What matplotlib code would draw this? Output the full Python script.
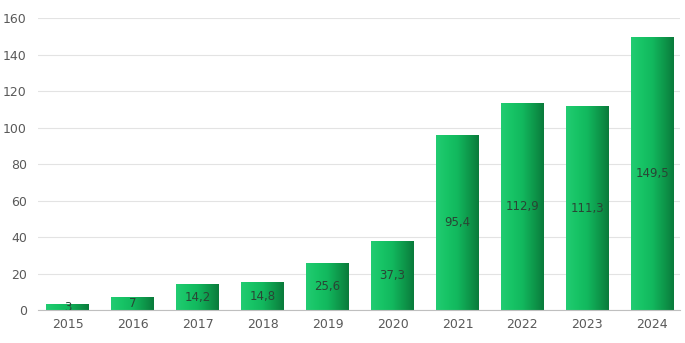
import matplotlib
matplotlib.use("Agg")
import matplotlib.pyplot as plt
import numpy as np
from matplotlib.colors import LinearSegmentedColormap

years = ["2015", "2016", "2017", "2018", "2019", "2020", "2021", "2022", "2023", "2024"]
values = [3, 7, 14.2, 14.8, 25.6, 37.3, 95.4, 112.9, 111.3, 149.5]
labels = ["3", "7", "14,2", "14,8", "25,6", "37,3", "95,4", "112,9", "111,3", "149,5"]
yticks = [0, 20, 40, 60, 80, 100, 120, 140, 160]

fig = plt.figure(figsize=(6.85, 3.43), dpi=100)
ax = fig.add_axes([0.0555, 0.0962, 0.9375, 0.8513])

x = np.arange(len(years))
bars = ax.bar(x, values, width=0.66, color="none", edgecolor="none", zorder=2)

cmap = LinearSegmentedColormap.from_list(
    "g", ["#22cc72", "#17c466", "#12b85e", "#0e9a4c", "#0a7a3b"])
grad = np.linspace(0, 1, 256).reshape(1, -1)
for b in bars:
    x0, y0 = b.get_x(), b.get_y()
    w, h = b.get_width(), b.get_height()
    ax.imshow(grad, cmap=cmap, aspect="auto", extent=[x0, x0 + w, y0, y0 + h],
              zorder=2, interpolation="bilinear")

for xi, v, lab in zip(x, values, labels):
    ax.text(xi, v / 2, lab, ha="center", va="center", fontsize=8.5,
            color="#2a4535", zorder=3)

ax.set_xlim(-0.46, 9.43)
ax.set_ylim(0, 160)
ax.set_yticks(yticks)
ax.set_xticks(x)
ax.set_xticklabels(years)
ax.yaxis.grid(True, color="#e3e3e3", linewidth=0.8, zorder=0)
ax.set_axisbelow(True)
for s in ["top", "right", "left"]:
    ax.spines[s].set_visible(False)
ax.spines["bottom"].set_color("#bfbfbf")
ax.spines["bottom"].set_zorder(4)
ax.tick_params(axis="both", length=0, labelsize=9, colors="#595959")
ax.tick_params(axis="x", pad=6)
ax.tick_params(axis="y", pad=8)

fig.savefig("out.png", dpi=100)
